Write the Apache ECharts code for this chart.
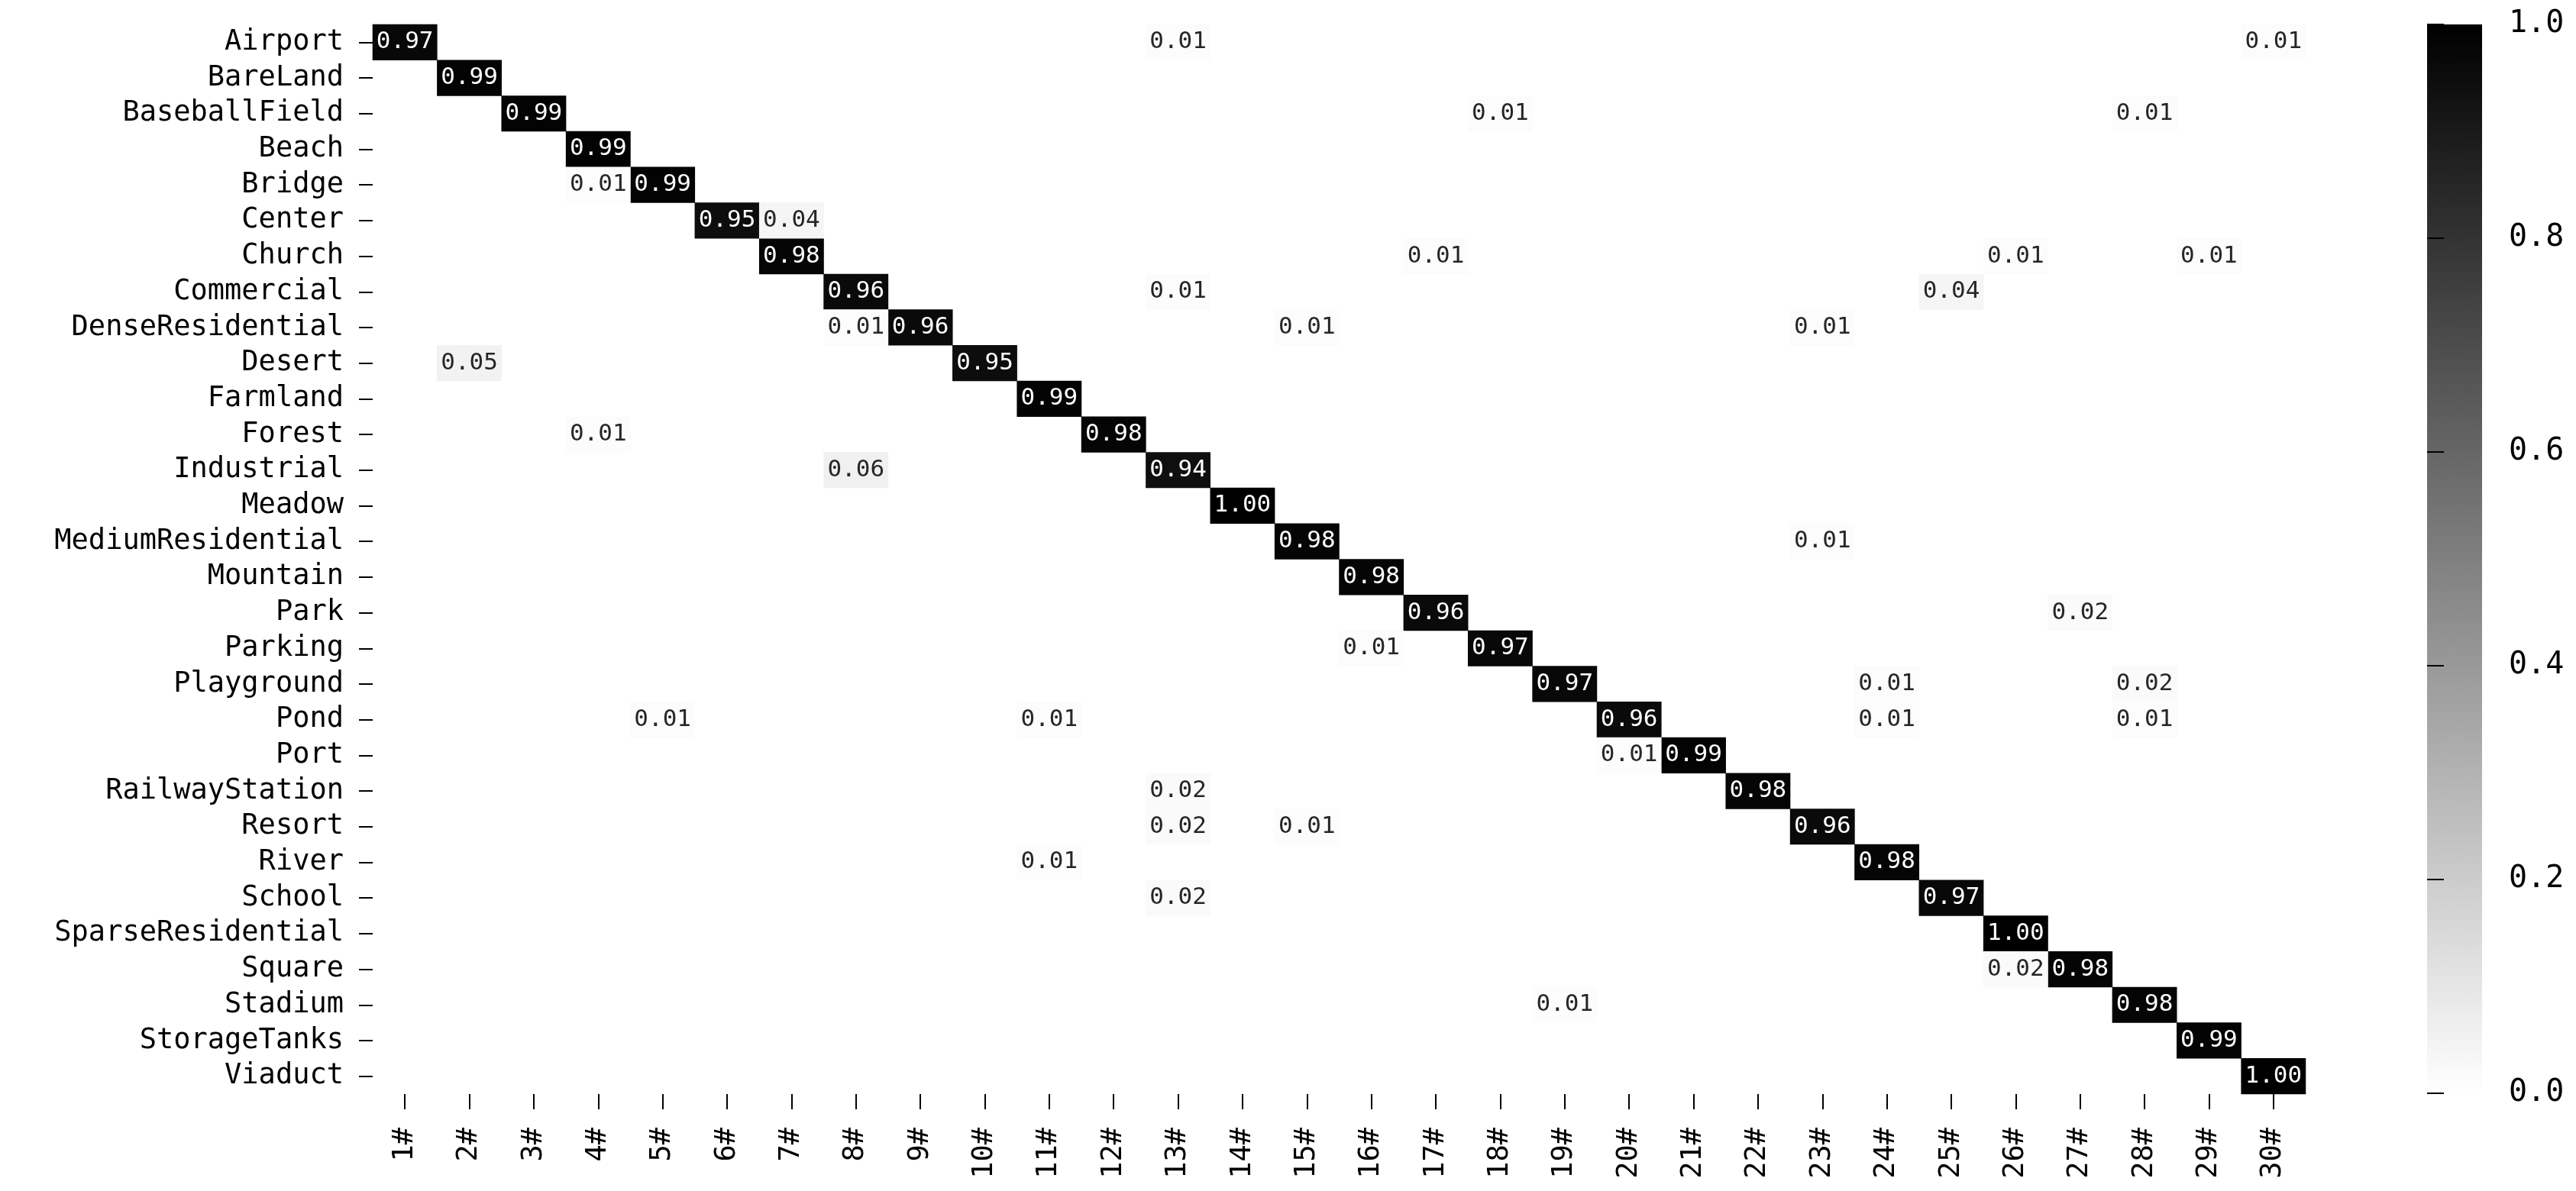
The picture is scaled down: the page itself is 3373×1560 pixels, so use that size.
<!DOCTYPE html>
<html>
<head>
<meta charset="utf-8">
<style>
  html, body { margin: 0; padding: 0; background: #fff; }
  #chart { width: 3373px; height: 1560px; }
</style>
<script src="https://cdn.jsdelivr.net/npm/echarts@6/dist/echarts.min.js"></script>
</head>
<body>
<div id="chart"></div>
<script>
// row classes (top to bottom)
const classes = [
  "Airport", "BareLand", "BaseballField", "Beach", "Bridge", "Center", "Church",
  "Commercial", "DenseResidential", "Desert", "Farmland", "Forest", "Industrial",
  "Meadow", "MediumResidential", "Mountain", "Park", "Parking", "Playground",
  "Pond", "Port", "RailwayStation", "Resort", "River", "School",
  "SparseResidential", "Square", "Stadium", "StorageTanks", "Viaduct"
];
// column labels
const columns = [];
for (let i = 1; i <= 30; i++) columns.push(i + "#");

// diagonal values
const diagonal = [
  0.97, 0.99, 0.99, 0.99, 0.99, 0.95, 0.98, 0.96, 0.96, 0.95,
  0.99, 0.98, 0.94, 1.00, 0.98, 0.98, 0.96, 0.97, 0.97, 0.96,
  0.99, 0.98, 0.96, 0.98, 0.97, 1.00, 0.98, 0.98, 0.99, 1.00
];
// off-diagonal entries: [row, col, value]
const offDiagonal = [
  [0, 12, 0.01], [0, 29, 0.01],
  [2, 17, 0.01], [2, 27, 0.01],
  [4, 3, 0.01],
  [5, 6, 0.04],
  [6, 16, 0.01], [6, 25, 0.01], [6, 28, 0.01],
  [7, 12, 0.01], [7, 24, 0.04],
  [8, 7, 0.01], [8, 14, 0.01], [8, 22, 0.01],
  [9, 1, 0.05],
  [11, 3, 0.01],
  [12, 7, 0.06],
  [14, 22, 0.01],
  [16, 26, 0.02],
  [17, 15, 0.01],
  [18, 23, 0.01], [18, 27, 0.02],
  [19, 4, 0.01], [19, 10, 0.01], [19, 23, 0.01], [19, 27, 0.01],
  [20, 19, 0.01],
  [21, 12, 0.02],
  [22, 12, 0.02], [22, 14, 0.01],
  [23, 10, 0.01],
  [24, 12, 0.02],
  [26, 25, 0.02],
  [27, 18, 0.01]
];
// colorbar ticks
const barTicks = [0, 0.2, 0.4, 0.6, 0.8, 1.0];

const cells = diagonal.map((v, i) => [i, i, v])
  .concat(offDiagonal.map(d => [d[1], d[0], d[2]]))
  .map(d => ({
    value: d,
    label: { color: d[2] > 0.5 ? "#ffffff" : "#262626" }
  }));

const font = "DejaVu Sans Mono";
const hiddenLine = { show: true, lineStyle: { color: "rgba(0,0,0,0)" } };
const tickStyle = { color: "#000", width: 2 };

const chart = echarts.init(document.getElementById("chart"));

chart.setOption({
  animation: false,
  backgroundColor: "#ffffff",
  grid: [
    { left: 488, top: 32, width: 2531, height: 1401 },
    {
      left: 3178, top: 32, width: 72, height: 1400,
      show: true,
      borderWidth: 0,
      // colorbar
      backgroundColor: new echarts.graphic.LinearGradient(0, 0, 0, 1, [
        { offset: 0, color: "#000000" },
        { offset: 1, color: "#ffffff" }
      ])
    }
  ],
  xAxis: [
    {
      type: "category",
      data: columns,
      gridIndex: 0,
      axisLine: hiddenLine,
      axisTick: { show: true, alignWithLabel: true, length: 20, lineStyle: tickStyle },
      axisLabel: { rotate: 90, margin: 44, color: "#000", fontFamily: font, fontSize: 37, interval: 0 },
      splitLine: { show: false }
    },
    { type: "value", gridIndex: 1, show: false, min: 0, max: 1 }
  ],
  yAxis: [
    {
      type: "category",
      data: classes,
      inverse: true,
      gridIndex: 0,
      axisLine: hiddenLine,
      axisTick: { show: true, alignWithLabel: true, length: 18, lineStyle: tickStyle },
      axisLabel: { margin: 38, color: "#000", fontFamily: font, fontSize: 37, interval: 0 },
      splitLine: { show: false }
    },
    {
      type: "value",
      gridIndex: 1,
      position: "right",
      min: barTicks[0],
      max: barTicks[barTicks.length - 1],
      interval: 0.2,
      axisLine: hiddenLine,
      axisTick: { show: true, length: 22, lineStyle: tickStyle },
      axisLabel: {
        margin: 35, color: "#000", fontFamily: font, fontSize: 40,
        formatter: v => v.toFixed(1)
      },
      splitLine: { show: false }
    }
  ],
  visualMap: {
    type: "continuous",
    show: false,
    min: 0,
    max: 1,
    seriesIndex: 0,
    inRange: { color: ["#ffffff", "#000000"] }
  },
  series: [
    {
      type: "heatmap",
      xAxisIndex: 0,
      yAxisIndex: 0,
      data: cells,
      label: {
        show: true,
        fontFamily: font,
        fontSize: 31,
        formatter: p => p.value[2].toFixed(2)
      },
      emphasis: { disabled: true }
    }
  ]
});
</script>
</body>
</html>
